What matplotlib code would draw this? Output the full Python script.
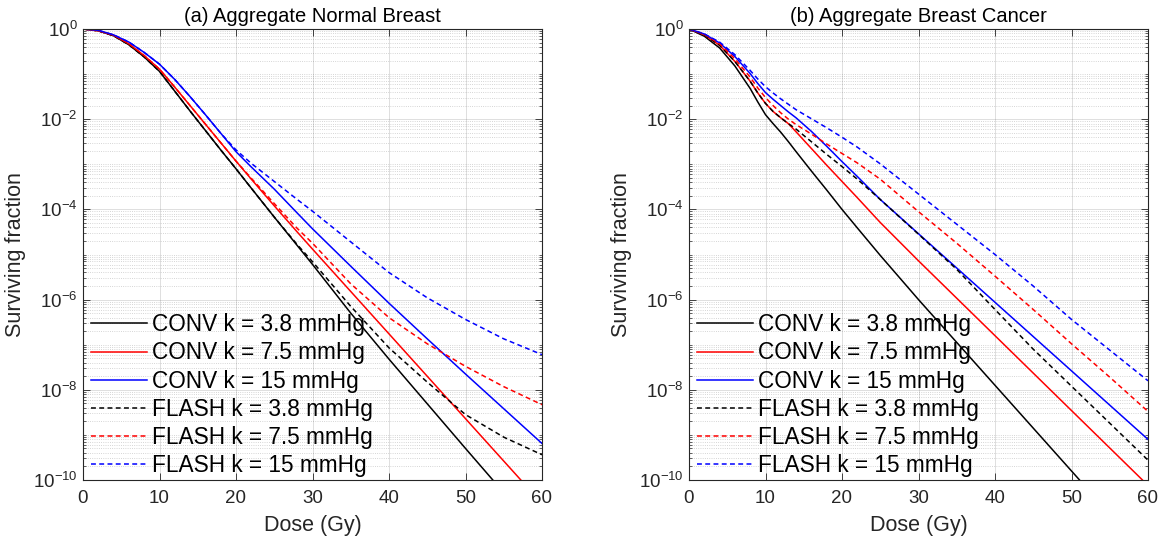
import matplotlib
matplotlib.use("Agg")
import matplotlib.pyplot as plt
import numpy as np
from matplotlib.ticker import LogLocator, LogFormatterMathtext, NullFormatter

plt.rcParams['font.family'] = ['Liberation Sans', 'DejaVu Sans']
plt.rcParams['mathtext.fontset'] = 'custom'
plt.rcParams['mathtext.rm'] = 'Liberation Sans'
plt.rcParams['axes.unicode_minus'] = False

# Dose grids (Gy)
dose_a = [0, 2, 4, 6, 8, 10, 12, 14, 16, 18, 20, 22, 25, 28, 30, 35, 40, 45, 50, 55, 60]
dose_b = [0, 2, 4, 6, 8, 9, 10, 11, 12, 13, 14, 16, 18, 20, 22, 25, 30, 35, 40, 45, 50, 55, 60]

# (a) Aggregate normal breast, log10 of surviving fraction
conv_38_a = [0, -0.04, -0.15, -0.35, -0.62, -0.94, -1.38, -1.82, -2.25, -2.68, -3.10,
             -3.53, -4.17, -4.80, -5.22, -6.30, -7.32, -8.31, -9.30, -10.28, -11.26]
conv_75_a = [0, -0.04, -0.14, -0.33, -0.59, -0.89, -1.29, -1.70, -2.11, -2.52, -2.93,
             -3.33, -3.92, -4.50, -4.88, -5.82, -6.76, -7.70, -8.64, -9.58, -10.52]
conv_15_a = [0, -0.03, -0.13, -0.29, -0.52, -0.78, -1.12, -1.50, -1.90, -2.31, -2.72,
             -3.06, -3.55, -4.08, -4.43, -5.26, -6.08, -6.87, -7.65, -8.42, -9.19]
flash_38_a = [0, -0.04, -0.15, -0.35, -0.62, -0.94, -1.38, -1.82, -2.25, -2.68, -3.10,
              -3.53, -4.17, -4.78, -5.16, -6.15, -7.07, -7.83, -8.55, -9.05, -9.44]
flash_75_a = [0, -0.04, -0.14, -0.33, -0.59, -0.89, -1.29, -1.70, -2.11, -2.52, -2.93,
              -3.31, -3.87, -4.42, -4.75, -5.65, -6.40, -6.98, -7.48, -7.93, -8.33]
flash_15_a = [0, -0.03, -0.13, -0.29, -0.52, -0.78, -1.12, -1.50, -1.90, -2.31, -2.68,
              -2.98, -3.38, -3.78, -4.04, -4.72, -5.40, -5.96, -6.44, -6.87, -7.22]

# (b) Aggregate breast cancer, log10 of surviving fraction
conv_38_b = [0, -0.16, -0.42, -0.82, -1.32, -1.62, -1.90, -2.10, -2.29, -2.50, -2.72, -3.15,
             -3.57, -4.00, -4.41, -5.02, -6.00, -6.95, -7.90, -8.85, -9.80, -10.75, -11.70]
conv_75_b = [0, -0.13, -0.36, -0.72, -1.16, -1.42, -1.65, -1.83, -1.97, -2.10, -2.28, -2.65,
             -3.02, -3.38, -3.74, -4.29, -5.14, -5.97, -6.80, -7.63, -8.46, -9.29, -10.12]
conv_15_b = [0, -0.11, -0.31, -0.61, -0.99, -1.21, -1.41, -1.56, -1.70, -1.84, -1.97, -2.27,
             -2.60, -2.94, -3.27, -3.78, -4.54, -5.30, -6.06, -6.82, -7.58, -8.34, -9.10]
flash_38_b = [0, -0.13, -0.36, -0.72, -1.16, -1.42, -1.65, -1.83, -1.97, -2.10, -2.22, -2.50,
              -2.78, -3.05, -3.33, -3.78, -4.55, -5.33, -6.22, -7.10, -7.92, -8.74, -9.56]
flash_75_b = [0, -0.12, -0.33, -0.66, -1.07, -1.31, -1.52, -1.70, -1.86, -2.00, -2.12, -2.33,
              -2.55, -2.76, -2.97, -3.33, -4.05, -4.75, -5.48, -6.22, -6.98, -7.72, -8.48]
flash_15_b = [0, -0.11, -0.29, -0.57, -0.92, -1.11, -1.28, -1.42, -1.55, -1.67, -1.79, -1.99,
              -2.19, -2.40, -2.62, -2.99, -3.66, -4.33, -5.00, -5.70, -6.44, -7.12, -7.80]

labels = ['CONV k = 3.8 mmHg', 'CONV k = 7.5 mmHg', 'CONV k = 15 mmHg',
          'FLASH k = 3.8 mmHg', 'FLASH k = 7.5 mmHg', 'FLASH k = 15 mmHg']
colors = ['black', '#ff0000', '#0000ff', 'black', '#ff0000', '#0000ff']
styles = ['-', '-', '-', '--', '--', '--']

W, H = 1162, 545


def draw_panel(ax, dose, series, title):
    for vals, lab, col, ls in zip(series, labels, colors, styles):
        line, = ax.plot(dose, 10.0 ** np.array(vals), color=col, lw=1.1, label=lab)
        if ls == '--':
            line.set_dashes((3.2, 2.2))

    ax.set_yscale('log')
    ax.set_xlim(0, 60)
    ax.set_ylim(1e-10, 1)
    ax.set_xticks(range(0, 61, 10))
    ax.set_yticks([10.0 ** e for e in range(-10, 1, 2)])
    ax.yaxis.set_major_formatter(LogFormatterMathtext())
    ax.yaxis.set_minor_locator(LogLocator(base=10, subs=np.arange(1, 10), numticks=50))
    ax.yaxis.set_minor_formatter(NullFormatter())

    ax.grid(True, which='major', color='#262626', alpha=0.15, lw=0.7, linestyle='-')
    ax.grid(True, which='minor', axis='y', color='#262626', alpha=0.25, lw=0.6, linestyle=':')
    ax.set_axisbelow(True)

    ax.tick_params(which='both', direction='in', top=True, right=True,
                   colors='#262626', labelsize=13.5, labelcolor='#262626')
    ax.tick_params(which='major', length=5, width=0.6)
    ax.tick_params(which='minor', length=2.5, width=0.5)
    ax.tick_params(axis='x', which='major', pad=7)
    ax.tick_params(axis='y', which='major', pad=4)
    for sp in ax.spines.values():
        sp.set_color('#262626')
        sp.set_linewidth(0.8)

    ax.set_xlabel('Dose (Gy)', fontsize=15.5, color='#262626', labelpad=6)
    ax.set_ylabel('Surviving fraction', fontsize=15.5, color='#262626', labelpad=5)
    ax.set_title(title, fontsize=14.5, color='black', pad=5)

    ax.legend(loc='lower left', bbox_to_anchor=(0.008, -0.004), frameon=False, fontsize=16.3,
              handlelength=2.45, handletextpad=0.22, labelspacing=0.23,
              borderaxespad=0.0, borderpad=0.2)


def main():
    fig = plt.figure(figsize=(W / 100, H / 100), dpi=100)
    ax1 = fig.add_axes([83 / W, 65 / H, 459 / W, 451 / H])
    ax2 = fig.add_axes([689 / W, 65 / H, 459 / W, 451 / H])

    draw_panel(ax1, dose_a, [conv_38_a, conv_75_a, conv_15_a, flash_38_a, flash_75_a, flash_15_a],
               '(a) Aggregate Normal Breast')
    draw_panel(ax2, dose_b, [conv_38_b, conv_75_b, conv_15_b, flash_38_b, flash_75_b, flash_15_b],
               '(b) Aggregate Breast Cancer')

    fig.savefig('out.png', dpi=100)


if __name__ == '__main__':
    main()
